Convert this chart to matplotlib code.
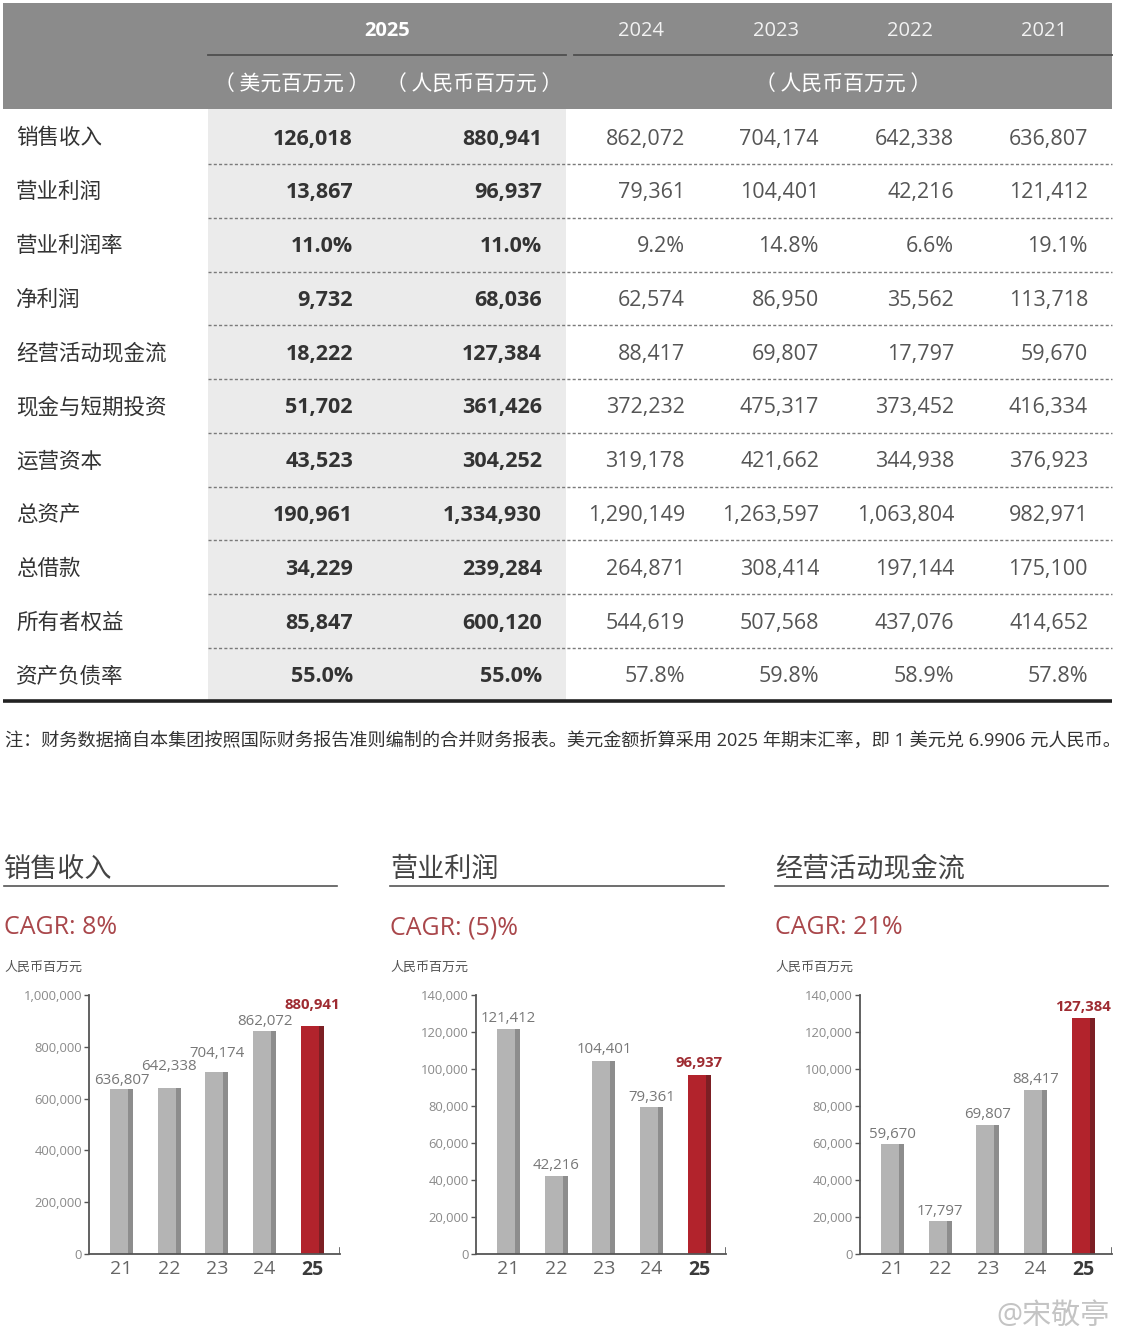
import matplotlib
matplotlib.use("Agg")
import matplotlib.pyplot as plt

plt.rcParams['font.family'] = ['Open Sans', 'Noto Sans CJK SC', 'DejaVu Sans']

# ---- table data ----
row_labels = ['销售收入', '营业利润', '营业利润率', '净利润', '经营活动现金流', '现金与短期投资',
              '运营资本', '总资产', '总借款', '所有者权益', '资产负债率']
usd_2025 = ['126,018', '13,867', '11.0%', '9,732', '18,222', '51,702', '43,523',
            '190,961', '34,229', '85,847', '55.0%']
rmb_2025 = ['880,941', '96,937', '11.0%', '68,036', '127,384', '361,426', '304,252',
            '1,334,930', '239,284', '600,120', '55.0%']
rmb_2024 = ['862,072', '79,361', '9.2%', '62,574', '88,417', '372,232', '319,178',
            '1,290,149', '264,871', '544,619', '57.8%']
rmb_2023 = ['704,174', '104,401', '14.8%', '86,950', '69,807', '475,317', '421,662',
            '1,263,597', '308,414', '507,568', '59.8%']
rmb_2022 = ['642,338', '42,216', '6.6%', '35,562', '17,797', '373,452', '344,938',
            '1,063,804', '197,144', '437,076', '58.9%']
rmb_2021 = ['636,807', '121,412', '19.1%', '113,718', '59,670', '416,334', '376,923',
            '982,971', '175,100', '414,652', '57.8%']
old_years = ['2024', '2023', '2022', '2021']
note = ('注：财务数据摘自本集团按照国际财务报告准则编制的合并财务报表。'
        '美元金额折算采用 2025 年期末汇率，即 1 美元兑 6.9906 元人民币。')

# ---- chart data ----
bar_years = ['21', '22', '23', '24', '25']
sales = [636807, 642338, 704174, 862072, 880941]
op_profit = [121412, 42216, 104401, 79361, 96937]
op_cash = [59670, 17797, 69807, 88417, 127384]
chart_titles = ['销售收入', '营业利润', '经营活动现金流']
chart_cagr = ['CAGR: 8%', 'CAGR: (5)%', 'CAGR: 21%']
chart_ymax = [1000000, 140000, 140000]
chart_ystep = [200000, 20000, 20000]

W, H = 1121, 1342
fig = plt.figure(figsize=(W / 100, H / 100), dpi=100)
bg = fig.add_axes([0, 0, 1, 1])
bg.set_xlim(0, W)
bg.set_ylim(H, 0)
bg.axis('off')

cjk = ['Noto Sans CJK SC', 'DejaVu Sans']

# header band
head_grey = '#8b8b8b'
bg.add_patch(plt.Rectangle((3, 3), 1109, 106, color=head_grey, lw=0))
bg.plot([208, 566], [55, 55], color='#4f4f4f', lw=1.3)
bg.plot([574, 1112], [55, 55], color='#4f4f4f', lw=1.3)
bg.text(387, 31, '2025', ha='center', va='center', fontsize=14.5, color='white', fontweight='bold')
year_x = [641, 776, 910, 1044]
for x, y in zip(year_x, old_years):
    bg.text(x, 31, y, ha='center', va='center', fontsize=14.5, color='#f2f2f2')
bg.text(292, 85, '（ 美元百万元 ）', ha='center', va='center', fontsize=15, color='white', family=cjk)
bg.text(474, 85, '（ 人民币百万元 ）', ha='center', va='center', fontsize=15, color='white', family=cjk)
bg.text(843, 85, '（ 人民币百万元 ）', ha='center', va='center', fontsize=15, color='white', family=cjk)

# shaded 2025 column
bg.add_patch(plt.Rectangle((208, 109), 358, 592, color='#ebebeb', lw=0))

row_y0, row_h = 139, 53.8
cols = [usd_2025, rmb_2025, rmb_2024, rmb_2023, rmb_2022, rmb_2021]
col_right = [353, 542, 685, 819, 954, 1088]
for i, lab in enumerate(row_labels):
    y = row_y0 + i * row_h
    bg.text(16, y, lab, ha='left', va='center', fontsize=15.5, color='#333333')
    for j, (col, xr) in enumerate(zip(cols, col_right)):
        bold = j < 2
        bg.text(xr, y, col[i], ha='right', va='center', fontsize=15.5,
                color='#333333' if bold else '#555555',
                fontweight='bold' if bold else 'normal')
    if i < len(row_labels) - 1:
        yl = y - 2 + row_h / 2
        bg.plot([208, 1112], [yl, yl], color='#7a7a7a', lw=1.0, linestyle=(0, (2.2, 1.6)))
bg.plot([3, 1112], [701, 701], color='#222222', lw=2.6, solid_capstyle='butt')

bg.text(5, 742, note, ha='left', va='center', fontsize=13.1, color='#333333')

# ---- bar charts ----
grey_face, grey_side = '#b4b4b4', '#8d8d8d'
red_face, red_side = '#b2232c', '#7c1f24'
panel_left = [4, 390, 775]
axis_left = [89, 476, 860]
axis_right = [340, 726, 1112]
title_right = [337, 724, 1108]
# lift of each value label above its bar (points), as placed in the original
label_pad = [[1, 9.5, 8, 1.2, 10],
             [2.2, 2.2, 2.5, 1.9, 3.1],
             [1.5, 1.5, 1.7, 2.8, 3]]
series = [sales, op_profit, op_cash]

ax_top, ax_bot = 995, 1254
x = list(range(len(bar_years)))
for k in range(3):
    pl = panel_left[k]
    bg.text(pl, 870, chart_titles[k], ha='left', va='center', fontsize=19.5, color='#444444')
    bg.plot([pl, title_right[k]], [886, 886], color='#555555', lw=1.2)
    bg.text(pl, 928, chart_cagr[k], ha='left', va='center', fontsize=18, color='#a9474b')
    bg.text(pl, 967, '人民币百万元', ha='left', va='center', fontsize=9.4, color='#555555')

    ax = fig.add_axes([axis_left[k] / W, 1 - ax_bot / H,
                       (axis_right[k] - axis_left[k]) / W, (ax_bot - ax_top) / H])
    ax.set_facecolor('none')
    vals = series[k]
    faces = [grey_face] * 4 + [red_face]
    sides = [grey_side] * 4 + [red_side]
    fw, sw = 0.375, 0.105
    tot = fw + sw
    ax.bar([xi - tot / 2 + fw / 2 for xi in x], vals, width=fw, color=faces, lw=0)
    ax.bar([xi + tot / 2 - sw / 2 for xi in x], vals, width=sw, color=sides, lw=0)
    for xi, v in zip(x, vals):
        last = xi == len(x) - 1
        ax.annotate(f'{v:,}', (xi, v), xytext=(0, label_pad[k][xi]),
                    textcoords='offset points', ha='center', va='bottom',
                    fontsize=10.8, color='#9e2b31' if last else '#777777',
                    fontweight='bold' if last else 'normal')
    span = 47.7
    ax.set_xlim(-32.5 / span, (axis_right[k] - axis_left[k] - 32.5) / span)
    ax.set_ylim(0, chart_ymax[k])
    ax.set_yticks(range(0, chart_ymax[k] + 1, chart_ystep[k]))
    ax.set_yticklabels([f'{t:,}' for t in range(0, chart_ymax[k] + 1, chart_ystep[k])])
    ax.set_xticks(x)
    ax.set_xticklabels(bar_years)
    for s in ['top', 'right']:
        ax.spines[s].set_visible(False)
    for s in ['left', 'bottom']:
        ax.spines[s].set_color('#555555')
        ax.spines[s].set_linewidth(1.3)
    ax.tick_params(axis='y', direction='out', length=3.5, width=1, color='#555555',
                   labelsize=9.4, labelcolor='#8a8a8a', pad=1.5)
    ax.tick_params(axis='x', length=0, labelsize=14, labelcolor='#666666', pad=4)
    xl = ax.get_xticklabels()
    xl[-1].set_fontweight('bold')
    xl[-1].set_color('#3a3a3a')
    ax.axvline(ax.get_xlim()[1], ymin=0, ymax=0.025, color='#555555', lw=1.2)

# watermark
bg.text(1110, 1316, '@宋敬亭', ha='right', va='center', fontsize=21, color='#c4c4c4')

fig.savefig('out.png', dpi=100)
